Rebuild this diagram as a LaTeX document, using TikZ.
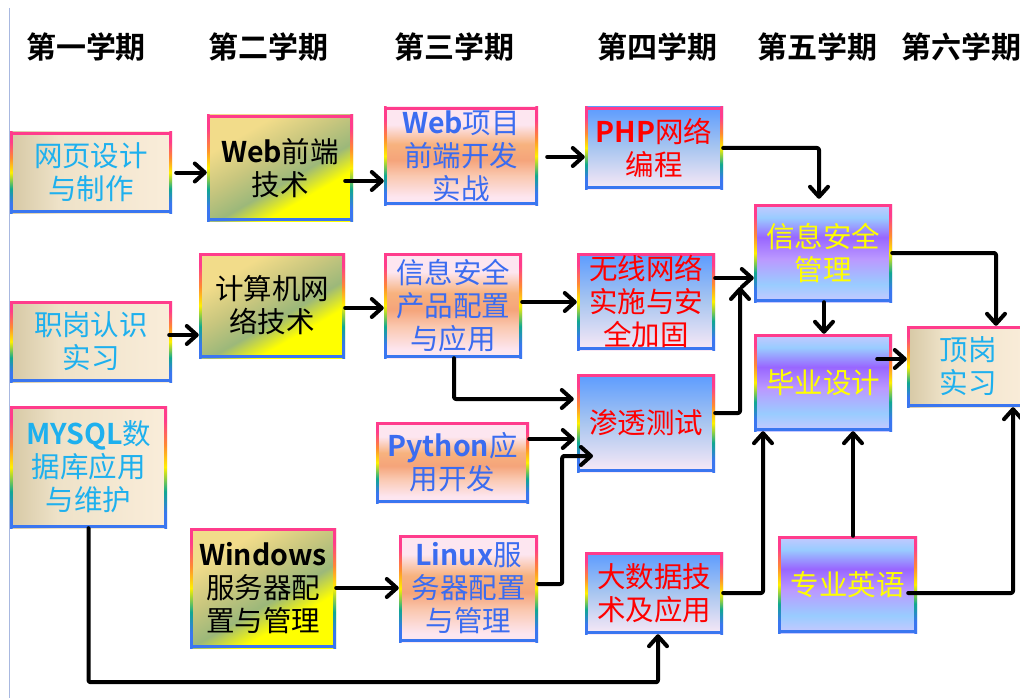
\documentclass[tikz,border=0pt]{standalone}
\usepackage{fontspec}
\setmainfont{Noto Sans CJK SC}[BoldFont={Noto Sans CJK SC Bold}]
\usetikzlibrary{arrows.meta}
\definecolor{eblue}{HTML}{3A76F0}
\definecolor{eteal}{HTML}{10A890}
\definecolor{eyellow}{HTML}{FFF000}
\definecolor{eorange}{HTML}{FF8A30}
\definecolor{epink}{HTML}{FF3C8C}
\definecolor{bg1}{HTML}{D6C8A4}
\definecolor{bg2}{HTML}{EEE2C8}
\definecolor{bg3}{HTML}{FAEDDA}
\definecolor{pk1}{HTML}{FDE6F0}
\definecolor{pk2}{HTML}{FAC8B0}
\definecolor{pk3}{HTML}{F5A47A}
\definecolor{pk4}{HTML}{F7B27E}
\definecolor{bl1}{HTML}{F9E9F6}
\definecolor{bl2}{HTML}{A9C6F0}
\definecolor{bl3}{HTML}{5B9BFF}
\definecolor{pu1}{HTML}{C8C8FF}
\definecolor{pu2}{HTML}{99CCFF}
\definecolor{pu3}{HTML}{BB99FF}
\definecolor{pu4}{HTML}{9966FF}
\definecolor{ol1}{HTML}{F2DC8A}
\definecolor{ol2}{HTML}{C8C67E}
\definecolor{ol3}{HTML}{9CB87A}
\definecolor{ol4}{HTML}{FFFF00}
\definecolor{tcyan}{HTML}{1EB0EE}
\definecolor{tblue}{HTML}{3B6CF0}
\definecolor{tred}{HTML}{FF0000}
\definecolor{tyellow}{HTML}{FFFF00}
\definecolor{leftline}{HTML}{A8B8E0}
\pgfdeclareverticalshading{rainbowedge}{100bp}{color(0bp)=(eblue); color(31bp)=(eblue); color(40bp)=(eteal); color(50bp)=(eyellow); color(59bp)=(eorange); color(69bp)=(epink); color(100bp)=(epink)}
\pgfdeclarehorizontalshading{beigefill}{100bp}{color(0bp)=(bg1); color(25bp)=(bg1); color(40bp)=(bg2); color(75bp)=(bg3); color(100bp)=(bg3)}
\pgfdeclareverticalshading{peachfill}{100bp}{color(0bp)=(pk1); color(29bp)=(pk1); color(40bp)=(pk2); color(48bp)=(pk3); color(56bp)=(pk4); color(66bp)=(pk1); color(100bp)=(pk1)}
\pgfdeclareverticalshading{bluefill}{100bp}{color(0bp)=(bl1); color(25bp)=(bl1); color(50bp)=(bl2); color(75bp)=(bl3); color(100bp)=(bl3)}
\pgfdeclareverticalshading{purplefill}{100bp}{color(0bp)=(pu1); color(25bp)=(pu1); color(34bp)=(pu2); color(47bp)=(pu3); color(58bp)=(pu4); color(68bp)=(pu2); color(75bp)=(pu1); color(100bp)=(pu1)}
\pgfdeclarehorizontalshading{olivefill}{100bp}{color(0bp)=(ol1); color(30bp)=(ol1); color(44bp)=(ol2); color(56bp)=(ol3); color(66bp)=(ol4); color(100bp)=(ol4)}
\newcommand\rbborder{%
  \shade[shading=rainbowedge,shading angle=0] (path picture bounding box.south west) rectangle ([xshift=2.6pt]path picture bounding box.north west);
  \shade[shading=rainbowedge,shading angle=0] ([xshift=-2.6pt]path picture bounding box.south east) rectangle (path picture bounding box.north east);
  \fill[epink] (path picture bounding box.north west) rectangle ([yshift=-2.6pt]path picture bounding box.north east);
  \fill[eblue] (path picture bounding box.south west) rectangle ([yshift=2.6pt]path picture bounding box.south east);}
\newcommand\boxfont{\fontsize{28.5}{33}\selectfont}
\tikzset{
  box/.style={rectangle, inner sep=0pt, align=center, font=\boxfont, shade, path picture={\rbborder}},
  beige/.style={box, shading=beigefill, text=tcyan},
  olive/.style={box, shading=olivefill, shading angle=-60, text=black},
  peach/.style={box, shading=peachfill, text=tblue},
  bluebox/.style={box, shading=bluefill, text=tred},
  purple/.style={box, shading=purplefill, text=tyellow},
  hdr/.style={font=\fontsize{30}{31}\selectfont\bfseries, text=black, inner sep=0pt},
  arr/.style={line width=4pt, -{Straight Barb[length=10pt,width=18pt,round]}, rounded corners=2pt, line cap=round, line join=round},
}
\begin{document}
\begin{tikzpicture}[x=1pt,y=-1pt]
\useasboundingbox (0,0) rectangle (1020,698);
\draw[leftline, line width=1.2pt] (9.5,8) -- (9.5,698);
% headers
\node[hdr] (h1) at (86,47) {第一学期};
\node[hdr] (h2) at (268,47) {第二学期};
\node[hdr] (h3) at (454,47) {第三学期};
\node[hdr] (h4) at (657,47) {第四学期};
\node[hdr] (h5) at (817,47) {第五学期};
\node[hdr] (h6) at (961,47) {第六学期};
% boxes
\node[beige, minimum width=162pt, minimum height=81pt] (wy) at (91,172.5) {网页设计\\与制作};
\node[olive, minimum width=146pt, minimum height=106pt] (wq) at (280,168) {\textbf{Web}前端\\技术};
\node[olive, minimum width=146pt, minimum height=105pt] (jsj) at (272,305.5) {计算机网\\络技术};
\node[beige, minimum width=162pt, minimum height=81pt] (zg) at (91,341.5) {职岗认识\\实习};
\node[peach, minimum width=154pt, minimum height=98pt] (wxm) at (461,156) {\textbf{Web}项目\\前端开发\\实战};
\node[bluebox, minimum width=138pt, minimum height=82pt] (php) at (654,148) {\textbf{PHP}网络\\编程};
\node[peach, minimum width=138pt, minimum height=105pt] (xxcp) at (453,305.5) {信息安全\\产品配置\\与应用};
\node[bluebox, minimum width=138pt, minimum height=97pt] (wx) at (646,301.5) {无线网络\\实施与安\\全加固};
\node[purple, minimum width=138pt, minimum height=98pt] (xxgl) at (823,253) {信息安全\\管理};
\node[purple, minimum width=138pt, minimum height=97pt] (by) at (823,382.5) {毕业设计};
\node[beige, minimum width=122pt, minimum height=81pt] (dg) at (968,366.5) {顶岗\\实习};
\node[beige, minimum width=157pt, minimum height=122pt] (my) at (88.5,467) {\textbf{MYSQL}数\\据库应用\\与维护};
\node[olive, minimum width=146pt, minimum height=120pt] (win) at (263,588) {\textbf{Windows}\\服务器配\\置与管理};
\node[bluebox, minimum width=138pt, minimum height=98pt] (st) at (646,423) {渗透测试};
\node[peach, minimum width=153pt, minimum height=81pt] (py) at (452.5,462.5) {\textbf{Python}应\\用开发};
\node[peach, minimum width=139pt, minimum height=107pt] (lx) at (468.5,588.5) {\textbf{Linux}服\\务器配置\\与管理};
\node[bluebox, minimum width=138pt, minimum height=82pt] (dsj) at (654,593) {大数据技\\术及应用};
\node[purple, minimum width=139pt, minimum height=97pt] (yy) at (847.5,584.5) {专业英语};
% connectors
\draw[arr] ([xshift=4pt]wy.east) -- (wq.west |- wy.east);
\draw[arr] ([xshift=-8pt,yshift=-13pt]wq.east) coordinate (a2) -- (wxm.west |- a2);
\draw[arr] ([xshift=9pt,yshift=-1pt]wxm.east) coordinate (a3) -- (php.west |- a3);
\draw[arr] (php.east) -| ([xshift=-4pt,yshift=5pt]xxgl.north);
\draw[arr] ([xshift=-3pt,yshift=6.5pt]zg.east) coordinate (a5) -- (jsj.west |- a5);
\draw[arr] ([yshift=-2.5pt]jsj.east) coordinate (a6) -- (xxcp.west |- a6);
\draw[arr] ([yshift=3.5pt]xxcp.east) coordinate (a7) -- (wx.west |- a7);
\draw[arr] ([yshift=23.5pt]wx.east) coordinate (a8) -- (xxgl.west |- a8);
\coordinate (j1) at (740,287);
\draw[arr] ([yshift=10pt]st.east) -| (j1);
\draw[arr] ([xshift=1pt]xxcp.south) |- ([xshift=-3pt,yshift=24pt]st.west);
\draw[arr] ([yshift=23.5pt]py.east) coordinate (a11) -- ([xshift=-2pt]st.west |- a11);
\coordinate (j2) at (593,456);
\draw[arr] ([yshift=4.5pt]lx.east) -- ++(24,0) |- (j2);
\draw[arr] (win.east) -- (lx.west |- win.east);
\draw[arr] (my.south) -- ++(0,154) -| ([xshift=4pt]dsj.south);
\draw[arr] (dsj.east) -| ([xshift=-60pt]by.south);
\draw[arr] ([xshift=5.5pt]yy.north) coordinate (a16) -- (a16 |- by.south);
\draw[arr] ([xshift=-9pt,yshift=-8.5pt]yy.east) -| ([xshift=45pt]dg.south);
\draw[arr] ([xshift=1pt]xxgl.south) coordinate (a18) -- (a18 |- by.north);
\draw[arr] (xxgl.east) -| ([xshift=28pt]dg.north);
\draw[arr] ([xshift=-15pt,yshift=23.5pt]by.east) coordinate (a20) -- (dg.west |- a20);
\end{tikzpicture}
\end{document}
